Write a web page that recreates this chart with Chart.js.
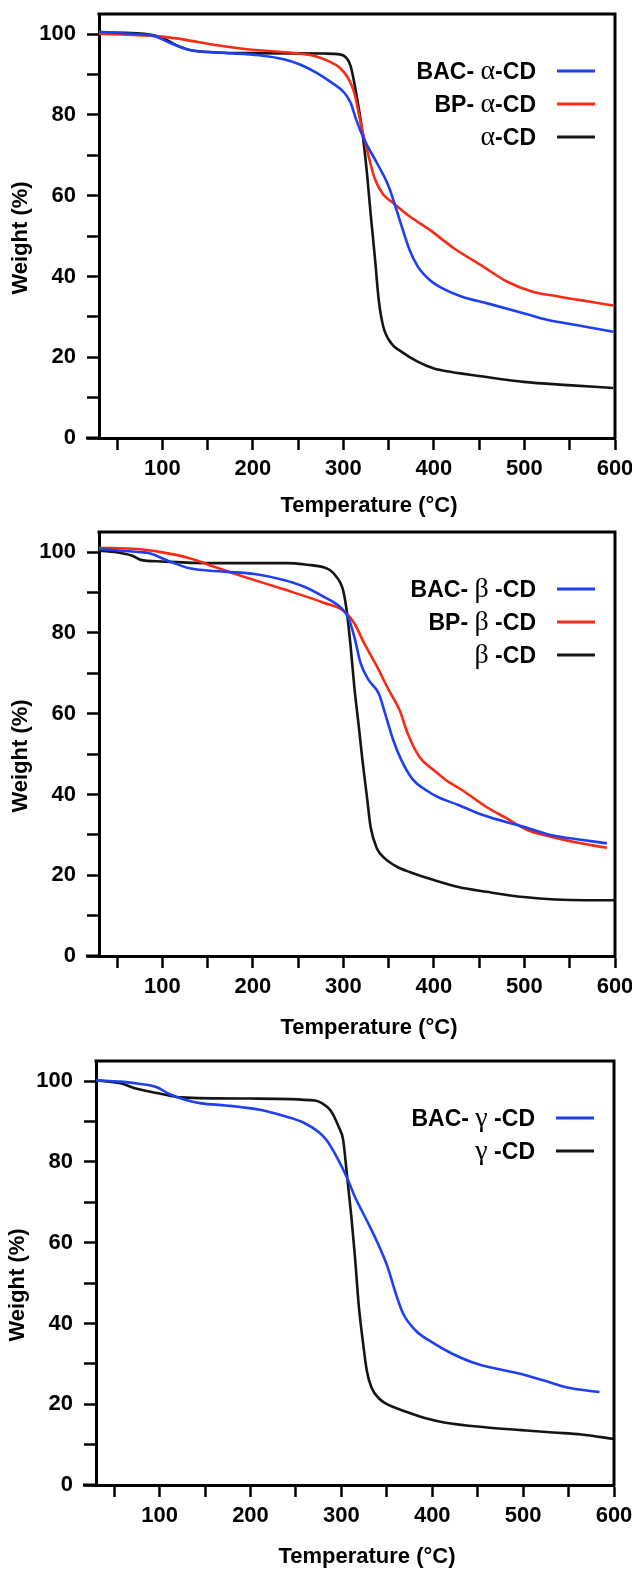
<!DOCTYPE html>
<html>
<head>
<meta charset="utf-8">
<script src="https://cdn.jsdelivr.net/npm/chart.js@4.4.1/dist/chart.umd.min.js"></script>
<style>
  html, body { margin: 0; padding: 0; background: #fff; overflow: hidden; }
  body { position: relative; width: 632px; height: 1569px; }
  canvas { position: absolute; }
</style>
</head>
<body>
<canvas id="alphaChart" width="632" height="518" style="left:0;top:0"></canvas>
<canvas id="betaChart" width="632" height="529" style="left:0;top:518px"></canvas>
<canvas id="gammaChart" width="635" height="522" style="left:-3px;top:1047px"></canvas>
<script>
// TGA curves: weight (%) vs temperature (°C)

// alpha-CD panel
const alphaBacT = [30, 72, 90, 108, 130, 166, 207, 234, 252, 270, 287, 301, 308, 314, 323, 337, 350, 362, 373, 382, 395, 409, 431, 458, 499, 526, 557, 598];
const alphaBacW = [100.6, 100, 99.6, 97.9, 96.1, 95.4, 94.8, 93.8, 92.5, 90.5, 88, 85.5, 83, 78.9, 73.9, 68.1, 62.3, 54.1, 46.6, 42.5, 39.2, 37.1, 35, 33.4, 30.9, 29.2, 28, 26.3];
const alphaBpT = [30, 99, 126, 153, 189, 225, 252, 270, 283, 296, 305, 312, 319, 326, 335, 344, 355, 373, 395, 422, 454, 481, 508, 539, 571, 598];
const alphaBpW = [100.1, 99.4, 98.6, 97.5, 96.4, 95.7, 95.2, 94.5, 93.4, 91.7, 89.2, 85.5, 78.1, 71.4, 64, 60.3, 58.2, 54.9, 51.6, 47, 42.5, 38.7, 36.3, 35, 33.8, 32.8];
const alphaCdT = [30, 72, 99, 117, 135, 200, 280, 296, 303, 308, 314, 321, 326, 330, 335, 339, 344, 353, 364, 382, 400, 418, 458, 499, 548, 598];
const alphaCdW = [100.4, 100.2, 99.2, 97.1, 95.9, 95.3, 95.2, 95, 94.2, 92.1, 85.5, 75.6, 65.6, 55.7, 44.1, 34.2, 27.6, 23.4, 21.4, 18.9, 17.2, 16.4, 15.1, 13.9, 13.1, 12.4];

// beta-CD panel
const betaBacT = [30, 76, 85, 108, 130, 166, 202, 234, 256, 278, 296, 305, 312, 319, 328, 339, 346, 355, 364, 377, 391, 404, 427, 454, 499, 530, 562, 591];
const betaBacW = [100.8, 100, 99.8, 97.7, 96, 95.2, 94.6, 93.1, 91.5, 89, 86.5, 84, 79.1, 72.5, 68.3, 65, 60.1, 53.5, 48.5, 43.6, 41.1, 39.4, 37.4, 34.9, 32, 29.9, 28.8, 27.9];
const betaBpT = [30, 72, 94, 130, 157, 189, 234, 278, 301, 312, 323, 337, 350, 362, 371, 384, 400, 413, 431, 458, 481, 503, 530, 562, 591];
const betaBpW = [101.1, 100.8, 100.2, 98.5, 96.4, 94, 90.8, 87.5, 85.3, 82.4, 77.4, 71.7, 65.9, 60.9, 55.1, 49.3, 46, 43.6, 41.1, 36.9, 34, 31.2, 29.5, 27.9, 26.8];
const betaCdT = [30, 54, 67, 76, 99, 150, 238, 260, 278, 285, 292, 299, 303, 308, 312, 317, 321, 326, 330, 337, 346, 359, 373, 400, 427, 458, 499, 566, 600];
const betaCdW = [100.4, 99.8, 99.1, 98.1, 97.7, 97.3, 97.3, 96.9, 96.3, 95.6, 94, 91.1, 86.5, 76.6, 66.7, 56.8, 48.5, 39.4, 32, 26.6, 24.1, 22.1, 20.8, 18.8, 17.1, 15.9, 14.6, 13.8, 13.8];

// gamma-CD panel
const gammaBacT = [30, 57, 79, 97, 110, 128, 146, 173, 213, 235, 257, 275, 284, 295, 306, 315, 328, 342, 351, 360, 368, 382, 400, 422, 449, 498, 524, 547, 584];
const gammaBacW = [100.2, 99.9, 99.3, 98.5, 96.9, 95.4, 94.5, 94, 92.8, 91.5, 89.9, 87.4, 85.3, 81.2, 76.2, 71.3, 65.5, 58.9, 53.9, 47.3, 42.4, 38.2, 35.3, 32.5, 30, 27.5, 25.8, 24.2, 23];
const gammaCdT = [30, 57, 75, 101, 124, 200, 271, 279, 288, 297, 302, 306, 311, 315, 319, 324, 328, 333, 342, 353, 368, 395, 413, 458, 498, 533, 564, 600];
const gammaCdW = [100.2, 99.5, 98.1, 96.9, 96, 95.7, 95.2, 94.5, 92.8, 88.7, 85.4, 77.1, 66.4, 56.4, 44.8, 34.9, 28.3, 24.2, 21.3, 19.7, 18.4, 16.4, 15.5, 14.3, 13.6, 13, 12.5, 11.4];

// axes
const xTicks = [50, 100, 150, 200, 250, 300, 350, 400, 450, 500, 550, 600];
const yTicks = [0, 10, 20, 30, 40, 50, 60, 70, 80, 90, 100];
const xTitle = 'Temperature (°C)';
const yTitle = 'Weight (%)';

const BLUE = '#1f3ff2';
const RED = '#fb2a14';
const BLACK = '#141414';
const SANS = "'Liberation Sans', Arial, sans-serif";
const SERIF = "'Liberation Serif', 'DejaVu Serif', serif";

// 枠線（上・右）と下軸の左側延長
const framePlugin = {
    id: 'frame',
    afterDraw: function (chart) {
        const ctx = chart.ctx;
        const a = chart.chartArea;
        ctx.save();
        ctx.strokeStyle = '#000';
        ctx.lineWidth = 3;
        ctx.beginPath();
        ctx.moveTo(a.left - 1.5, a.top);
        ctx.lineTo(a.right, a.top);
        ctx.lineTo(a.right, a.bottom + 1.5);
        ctx.moveTo(a.left - 13, a.bottom);
        ctx.lineTo(a.left, a.bottom);
        ctx.stroke();
        ctx.restore();
    }
};

// 軸タイトル
const titlePlugin = {
    id: 'axisTitles',
    afterDraw: function (chart, args, opts) {
        const ctx = chart.ctx;
        const a = chart.chartArea;
        ctx.save();
        ctx.fillStyle = '#000';
        ctx.font = 'bold 22px ' + SANS;
        ctx.textAlign = 'center';
        ctx.textBaseline = 'middle';
        ctx.fillText(xTitle, (a.left + a.right) / 2 + 12, a.bottom + opts.gap);
        ctx.translate(21, (a.top + a.bottom) / 2 + 12);
        ctx.rotate(-Math.PI / 2);
        ctx.fillText(yTitle, 0, 0);
        ctx.restore();
    }
};

// 凡例（文字が左、線が右）
const legendPlugin = {
    id: 'sideLegend',
    afterDraw: function (chart) {
        const ctx = chart.ctx;
        const a = chart.chartArea;
        const textRight = a.right - 79;
        ctx.save();
        chart.data.datasets.forEach(function (ds, i) {
            const y = a.top + 57 + i * 33;
            ctx.strokeStyle = ds.borderColor;
            ctx.lineWidth = 3;
            ctx.beginPath();
            ctx.moveTo(a.right - 58, y);
            ctx.lineTo(a.right - 20, y);
            ctx.stroke();

            // ギリシャ文字はセリフ体
            const parts = ds.label.split(/([α-ω])/).filter(function (p) { return p !== ''; });
            let x = textRight;
            ctx.fillStyle = '#000';
            ctx.textAlign = 'right';
            ctx.textBaseline = 'alphabetic';
            for (let k = parts.length - 1; k >= 0; k--) {
                const greek = /^[α-ω]$/.test(parts[k]);
                ctx.font = greek ? '28px ' + SERIF : 'bold 23px ' + SANS;
                ctx.fillText(parts[k], x, y + 8);
                x -= ctx.measureText(parts[k]).width;
            }
        });
        ctx.restore();
    }
};

function toPoints(t, w) {
    return t.map(function (v, i) { return { x: v, y: w[i] }; });
}

function makeChart(id, series, padRight, titleGap) {
    const canvas = document.getElementById(id);
    const h = canvas.height;
    return new Chart(canvas, {
        type: 'line',
        data: {
            datasets: series.map(function (s) {
                return {
                    label: s.label,
                    data: toPoints(s.t, s.w),
                    borderColor: s.color,
                    borderWidth: 2.6,
                    pointRadius: 0,
                    fill: false,
                    cubicInterpolationMode: 'monotone'
                };
            })
        },
        options: {
            responsive: false,
            animation: false,
            events: [],
            layout: { padding: { top: 14, right: padRight, left: 0, bottom: 0 } },
            plugins: {
                legend: { display: false },
                tooltip: { enabled: false },
                axisTitles: { gap: titleGap }
            },
            scales: {
                x: {
                    type: 'linear',
                    min: 30,
                    max: 600,
                    afterBuildTicks: function (s) { s.ticks = xTicks.map(function (v) { return { value: v }; }); },
                    afterFit: function (s) { s.height = h - 438; s.paddingLeft = 0; s.paddingRight = 0; },
                    ticks: {
                        autoSkip: false,
                        maxRotation: 0,
                        padding: 6,
                        color: '#000',
                        font: { family: SANS, size: 22, weight: 'bold' },
                        callback: function (v) { return v % 100 === 0 ? String(v) : ''; }
                    },
                    grid: { drawOnChartArea: false, drawTicks: true, tickLength: 12, tickWidth: 2.5, tickColor: '#000' },
                    border: { display: true, color: '#000', width: 3 }
                },
                y: {
                    min: 0,
                    max: 105,
                    afterBuildTicks: function (s) { s.ticks = yTicks.map(function (v) { return { value: v }; }); },
                    afterFit: function (s) { s.width = 99; s.paddingTop = 0; s.paddingBottom = 0; },
                    ticks: {
                        autoSkip: false,
                        padding: 11,
                        color: '#000',
                        font: { family: SANS, size: 22, weight: 'bold' },
                        callback: function (v) { return v % 20 === 0 ? String(v) : ''; }
                    },
                    grid: { drawOnChartArea: false, drawTicks: true, tickLength: 12, tickWidth: 2.5, tickColor: '#000' },
                    border: { display: true, color: '#000', width: 3 }
                }
            }
        },
        plugins: [framePlugin, titlePlugin, legendPlugin]
    });
}

makeChart('alphaChart', [
    { label: 'BAC- α-CD', t: alphaBacT, w: alphaBacW, color: BLUE },
    { label: 'BP- α-CD', t: alphaBpT, w: alphaBpW, color: RED },
    { label: 'α-CD', t: alphaCdT, w: alphaCdW, color: BLACK }
], 17, 68);

makeChart('betaChart', [
    { label: 'BAC- β -CD', t: betaBacT, w: betaBacW, color: BLUE },
    { label: 'BP- β -CD', t: betaBpT, w: betaBpW, color: RED },
    { label: 'β -CD', t: betaCdT, w: betaCdW, color: BLACK }
], 17, 72);

makeChart('gammaChart', [
    { label: 'BAC- γ -CD', t: gammaBacT, w: gammaBacW, color: BLUE },
    { label: 'γ -CD', t: gammaCdT, w: gammaCdW, color: BLACK }
], 18, 72);
</script>
</body>
</html>
